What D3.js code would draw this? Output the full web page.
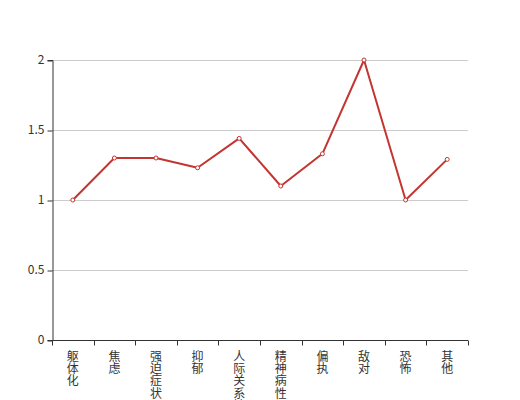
<!DOCTYPE html>
<html>
<head>
<meta charset="utf-8">
<script src="https://cdn.jsdelivr.net/npm/d3@7"></script>
<style>
  body { margin: 0; background: #fff; }
  text { font-family: "Noto Sans CJK SC", "DejaVu Sans", sans-serif; }
</style>
</head>
<body>
<svg id="chart" width="520" height="400"></svg>
<script>
// data
const categories = ["躯体化", "焦虑", "强迫症状", "抑郁", "人际关系敏感", "精神病性", "偏执", "敌对", "恐怖", "其他"];
const values = [1, 1.3, 1.3, 1.23, 1.44, 1.1, 1.33, 2, 1, 1.29];
const yTicks = [0, 0.5, 1, 1.5, 2];

const svg = d3.select("#chart");
const margin = { left: 52, right: 52, top: 60, bottom: 60 };
const width = 520 - margin.left - margin.right,
    height = 400 - margin.top - margin.bottom;

const g = svg.append("g").attr("transform", `translate(${margin.left},${margin.top})`);

const x = d3.scaleBand().domain(categories).range([0, width]);
const y = d3.scaleLinear().domain([0, 2]).range([height, 0]);

// grid lines
g.append("g")
    .selectAll("line")
    .data(yTicks.filter(d => d > 0))
    .enter()
    .append("line")
    .attr("x1", 0)
    .attr("x2", width)
    .attr("y1", d => y(d) + 0.5)
    .attr("y2", d => y(d) + 0.5)
    .attr("stroke", "#ccc");

// y axis
const yAxis = g.append("g")
    .attr("transform", "translate(0.5,0)")
    .call(d3.axisLeft(y).tickValues(yTicks).tickSize(5).tickPadding(3).tickFormat(d3.format("")));
yAxis.select(".domain").attr("stroke", "#333");
yAxis.selectAll(".tick line").attr("stroke", "#333").attr("transform", "translate(0,0.5)");
yAxis.selectAll(".tick text").attr("fill", "#333").style("font-size", "12px");

// x axis
const xAxis = g.append("g").attr("transform", `translate(0,${height + 0.5})`);
xAxis.append("line")
    .attr("x1", 0).attr("x2", width)
    .attr("stroke", "#333");
xAxis.selectAll(".xtick")
    .data(d3.range(categories.length + 1))
    .enter()
    .append("line")
    .attr("x1", i => Math.round(i * x.step()) + 0.5)
    .attr("x2", i => Math.round(i * x.step()) + 0.5)
    .attr("y1", 0).attr("y2", 5)
    .attr("stroke", "#333");

// vertical category labels
const labels = xAxis.selectAll(".xlabel")
    .data(categories)
    .enter()
    .append("text")
    .attr("x", d => x(d) + x.bandwidth() / 2)
    .attr("y", 8)
    .attr("fill", "#333")
    .style("font-size", "12px")
    .attr("text-anchor", "middle");
labels.selectAll("tspan")
    .data(d => d.split(""))
    .enter()
    .append("tspan")
    .attr("x", function() { return d3.select(this.parentNode).attr("x"); })
    .attr("dy", (d, i) => i === 0 ? "1em" : "1.04em")
    .text(d => d);

// line
const line = d3.line()
    .x((d, i) => x(categories[i]) + x.bandwidth() / 2)
    .y(d => y(d));
g.append("path")
    .datum(values)
    .attr("d", line)
    .attr("fill", "none")
    .attr("stroke", "#c23531")
    .attr("stroke-width", 2)
    .attr("stroke-linejoin", "round");

g.append("g")
    .selectAll("circle")
    .data(values)
    .enter()
    .append("circle")
    .attr("cx", (d, i) => x(categories[i]) + x.bandwidth() / 2)
    .attr("cy", d => y(d))
    .attr("r", 2)
    .attr("fill", "#fff")
    .attr("stroke", "#c23531")
    .attr("stroke-width", 1);
</script>
</body>
</html>
